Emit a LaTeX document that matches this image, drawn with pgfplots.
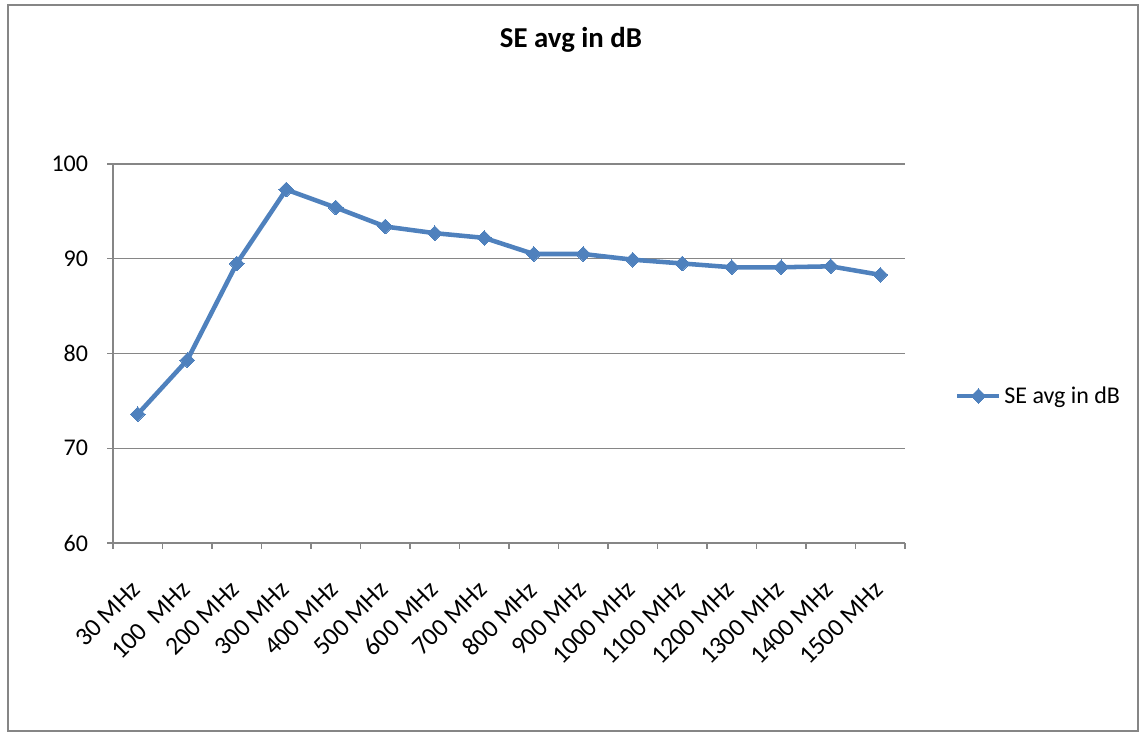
\documentclass[border=0pt]{standalone}
\usepackage{pgfplots}
\pgfplotsset{compat=1.18}
\usepackage{fontspec}
\setmainfont{Carlito}
\definecolor{excelblue}{RGB}{79,129,189}
\definecolor{axisgray}{RGB}{134,134,134}
\begin{document}
\begin{tikzpicture}[x=0.75pt,y=0.75pt]
\path[use as bounding box] (0,0) rectangle (1140,734);
\draw[axisgray,line width=1.5pt] (7.5,2.5) rectangle (1137.5,729);
\node[font=\fontsize{21.6}{26}\selectfont\bfseries] at (571,694) {SE avg in dB};
\begin{axis}[
  at={(84.75pt,143.25pt)}, anchor=south west,
  scale only axis, width=594pt, height=284.25pt,
  xmin=-0.5, xmax=15.5, ymin=60, ymax=100,
  ytick={60,70,80,90,100},
  xtick={0,...,15},
  xticklabels={30 MHz,100\ \ MHz,200 MHz,300 MHz,400 MHz,500 MHz,600 MHz,700 MHz,800 MHz,900 MHz,1000 MHz,1100 MHz,1200 MHz,1300 MHz,1400 MHz,1500 MHz},
  x tick style={draw=none},
  extra x ticks={-0.5,0.5,...,15.5},
  extra x tick labels={},
  extra x tick style={x tick style={draw=axisgray,line width=1pt}, major tick length=4.5pt},
  y tick style={draw=axisgray,line width=1pt}, major tick length=4.5pt,
  tick align=outside,
  axis x line*=bottom, axis y line*=left,
  axis line style={draw=axisgray,line width=1.2pt},
  ymajorgrids, grid style={draw=axisgray,line width=1pt},
  /pgf/number format/assume math mode=true,
  tick label style={font=\fontsize{18}{21.6}\selectfont},
  xticklabel style={font=\fontsize{19.2}{23}\selectfont, xshift=-5.85pt, yshift=-22.6pt, rotate=45, anchor=north east, inner sep=0pt},
  yticklabel style={inner sep=0pt, xshift=-14pt},
  legend style={at={(1.063,0.388)}, anchor=west, draw=none, fill=none, inner sep=0pt,
    font=\fontsize{18}{21.6}\selectfont},
  legend cell align=left,
  legend image code/.code={\draw[mark repeat=2,mark phase=2,#1] plot coordinates {(0pt,0pt) (15.75pt,0pt) (31.5pt,0pt)};},
]
\addplot[color=excelblue, line width=3.4pt, mark=square*, mark size=3.9pt,
  mark options={rotate=45, line width=0pt, fill=excelblue}] coordinates {
(0,73.6) (1,79.3) (2,89.5) (3,97.3) (4,95.4) (5,93.4) (6,92.7) (7,92.2)
(8,90.5) (9,90.5) (10,89.9) (11,89.5) (12,89.1) (13,89.1) (14,89.2) (15,88.3)};
\addlegendentry{SE avg in dB}
\end{axis}
\end{tikzpicture}
\end{document}
